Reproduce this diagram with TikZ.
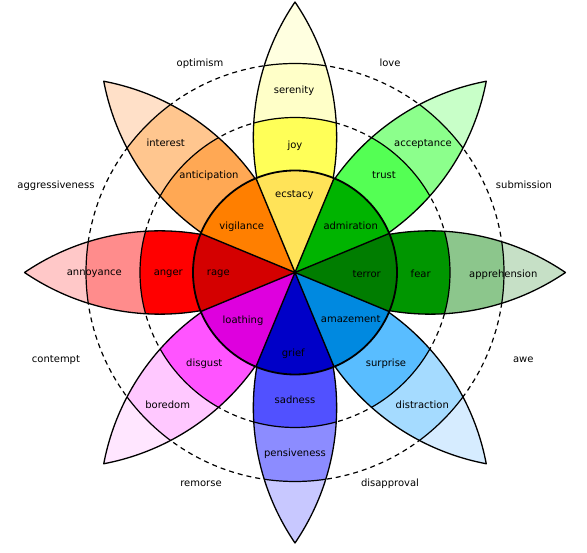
\documentclass[tikz,border=0pt]{standalone}
\usepackage{fontspec}
\setmainfont{DejaVu Sans}
\definecolor{yT}{HTML}{FFFFE0}\definecolor{yC}{HTML}{FFFFC8}\definecolor{yB}{HTML}{FFFF58}\definecolor{yA}{HTML}{FFE358}
\definecolor{gT}{HTML}{C8FFC8}\definecolor{gC}{HTML}{8CFF8C}\definecolor{gB}{HTML}{54FF54}\definecolor{gA}{HTML}{00B400}
\definecolor{dT}{HTML}{C6E0C6}\definecolor{dC}{HTML}{8CC68C}\definecolor{dB}{HTML}{009600}\definecolor{dA}{HTML}{007D00}
\definecolor{bT}{HTML}{D6ECFF}\definecolor{bC}{HTML}{A5DBFF}\definecolor{bB}{HTML}{59BDFF}\definecolor{bA}{HTML}{0089E0}
\definecolor{vT}{HTML}{C8C8FF}\definecolor{vC}{HTML}{8C8CFF}\definecolor{vB}{HTML}{5151FF}\definecolor{vA}{HTML}{0000C8}
\definecolor{mT}{HTML}{FFE6FF}\definecolor{mC}{HTML}{FFC8FF}\definecolor{mB}{HTML}{FF54FF}\definecolor{mA}{HTML}{DE00DE}
\definecolor{rT}{HTML}{FFC8C8}\definecolor{rC}{HTML}{FF8C8C}\definecolor{rB}{HTML}{FF0000}\definecolor{rA}{HTML}{D40000}
\definecolor{oT}{HTML}{FFE0C8}\definecolor{oC}{HTML}{FFC68F}\definecolor{oB}{HTML}{FFA854}\definecolor{oA}{HTML}{FF7F00}
\def\petalpath{(0,0) arc[start angle=124.25, end angle=55.75, radius=240.3] arc[start angle=-55.75, end angle=-124.25, radius=240.3] -- cycle}
\def\rA{102}\def\rB{155}\def\rC{209}
\begin{document}
\begin{tikzpicture}[x=1pt,y=1pt,
  outline/.style={line width=1.3pt, line join=round},
  ringline/.style={line width=1.2pt},
  guide/.style={line width=1.2pt, dash pattern=on 5pt off 4pt},
  lbl/.style={font=\fontsize{10}{12}\selectfont, inner sep=0pt, text height=7.5pt, text depth=2pt}]
\useasboundingbox (-295,-280.5) rectangle (292,272.5);
\coordinate (c) at (0,0);
\draw[guide] (c) circle[radius=\rB];
\draw[guide] (c) circle[radius=\rC];
% petal fills
\foreach \ang/\ca/\cb/\cc in {90/yT/yC/yB, 45/gT/gC/gB, 0/dT/dC/dB, -45/bT/bC/bB, -90/vT/vC/vB, -135/mT/mC/mB, 180/rT/rC/rB, 135/oT/oC/oB}{
  \begin{scope}[rotate=\ang]
    \clip \petalpath;
    \fill[\ca] (-10,-60) rectangle (280,60);
    \fill[\cb] (c) circle[radius=\rC];
    \fill[\cc] (c) circle[radius=\rB];
  \end{scope}
}
% petal labels
\node[lbl] (serenity) at (-1,181.8) {serenity};
\node[lbl] (joy) at (0,126.8) {joy};
\node[lbl] (interest) at (-129.3,128.5) {interest};
\node[lbl] (anticipation) at (-86,96.8) {anticipation};
\node[lbl] (trust) at (89,96.8) {trust};
\node[lbl] (acceptance) at (128,128.5) {acceptance};
\node[lbl] (annoyance) at (-200.7,-0.2) {annoyance};
\node[lbl] (anger) at (-126.7,-0.2) {anger};
\node[lbl] (fear) at (125.7,-2.5) {fear};
\node[lbl] (apprehension) at (208.3,-1.8) {apprehension};
\node[lbl] (disgust) at (-90.7,-91.5) {disgust};
\node[lbl] (boredom) at (-127.3,-133.2) {boredom};
\node[lbl] (surprise) at (91,-91.5) {surprise};
\node[lbl] (distraction) at (127.3,-133.2) {distraction};
\node[lbl] (sadness) at (0,-128.5) {sadness};
\node[lbl] (pensiveness) at (0,-181.5) {pensiveness};
% petal lines
\foreach \ang in {90,45,0,-45,-90,-135,180,135}{
  \begin{scope}[rotate=\ang]
    \begin{scope}
      \clip \petalpath;
      \draw[ringline] (c) circle[radius=\rC];
      \draw[ringline] (c) circle[radius=\rB];
    \end{scope}
    \draw[outline] \petalpath;
  \end{scope}
}
% inner sectors
\foreach \ang/\ca in {90/yA, 45/gA, 0/dA, -45/bA, -90/vA, -135/mA, 180/rA, 135/oA}{
  \fill[\ca] (c) -- ({\ang-22.5}:\rA) arc[start angle={\ang-22.5}, end angle={\ang+22.5}, radius=\rA] -- cycle;
}
\foreach \a in {22.5,67.5,...,337.5}{
  \draw[line width=1.4pt] (c) -- (\a:\rA);
}
\draw[line width=1.8pt] (c) circle[radius=\rA];
% inner labels
\node[lbl] (ecstacy) at (-0.7,77.5) {ecstacy};
\node[lbl] (vigilance) at (-53.3,45.8) {vigilance};
\node[lbl] (admiration) at (55.7,45.8) {admiration};
\node[lbl] (rage) at (-76.7,-0.2) {rage};
\node[lbl] (terror) at (71.7,-2.5) {terror};
\node[lbl] (loathing) at (-52,-47.8) {loathing};
\node[lbl] (amazement) at (55.7,-47.5) {amazement};
\node[lbl] (grief) at (-1.7,-80.8) {grief};
% outer labels
\node[lbl] (optimism) at (-95,208.5) {optimism};
\node[lbl] (love) at (95,208.5) {love};
\node[lbl] (aggressiveness) at (-239,86.5) {aggressiveness};
\node[lbl] (submission) at (229,86.5) {submission};
\node[lbl] (contempt) at (-239,-87.5) {contempt};
\node[lbl] (awe) at (228.3,-87.5) {awe};
\node[lbl] (remorse) at (-94,-211.5) {remorse};
\node[lbl] (disapproval) at (95,-211.5) {disapproval};
\end{tikzpicture}
\end{document}
